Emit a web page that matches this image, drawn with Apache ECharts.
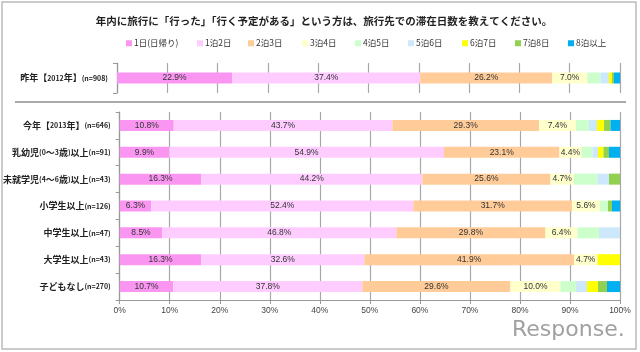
<!DOCTYPE html>
<html>
<head>
<meta charset="utf-8">
<script src="https://cdn.jsdelivr.net/npm/echarts@6/dist/echarts.min.js"></script>
<style>html,body{margin:0;padding:0;background:#fff;}#c{width:640px;height:352px;}</style>
</head>
<body>
<div id="c"></div>
<script>
const titleText = '年内に旅行に「行った」「行く予定がある」という方は、旅行先での滞在日数を教えてください。';
const topCategories = ['昨年【2012年】(n=908)'];
const categories = ['今年【2013年】(n=646)', '乳幼児(0～3歳)以上(n=91)', '未就学児(4～6歳)以上(n=43)', '小学生以上(n=126)', '中学生以上(n=47)', '大学生以上(n=43)', '子どもなし(n=270)'];
const seriesNames = ['1日(日帰り)', '1泊2日', '2泊3日', '3泊4日', '4泊5日', '5泊6日', '6泊7日', '7泊8日', '8泊以上'];
const seriesColors = ['#FA96F2', '#FFCCFF', '#FFCC99', '#FFFFCC', '#CCFFCC', '#CCE8FA', '#FFFF00', '#92D050', '#00B0F0'];
// first value = 昨年, then the 7 rows of categories
const d1 = [22.9, 10.8, 9.9, 16.3, 6.3, 8.5, 16.3, 10.7];
const d2 = [37.4, 43.7, 54.9, 44.2, 52.4, 46.8, 32.6, 37.8];
const d3 = [26.2, 29.3, 23.1, 25.6, 31.7, 29.8, 41.9, 29.6];
const d4 = [7.0, 7.4, 4.4, 4.7, 5.6, 6.4, 4.7, 10.0];
const d5 = [2.6, 2.6, 2.2, 4.7, 1.6, 4.3, 0, 3.1];
const d6 = [1.7, 1.6, 1.1, 2.3, 0, 4.3, 0, 2.2];
const d7 = [0.6, 1.4, 1.1, 0, 0, 0, 4.7, 2.2];
const d8 = [0.4, 1.3, 1.1, 2.3, 0.8, 0, 0, 1.8];
const d9 = [1.2, 1.9, 2.2, 0, 1.6, 0, 0, 2.6];
const xTicks = [0, 10, 20, 30, 40, 50, 60, 70, 80, 90, 100];

const allData = [d1, d2, d3, d4, d5, d6, d7, d8, d9];
const legendLeft = [126, 197, 248, 302, 355, 408, 462, 515, 568];
const JP = '"Noto Sans CJK JP", sans-serif';

function richLabel(s) {
  let out = '', cur = '', t0 = null;
  for (const ch of s) {
    const t = ch.charCodeAt(0) < 256 ? 's' : 'a';
    if (t !== t0 && cur) { out += '{' + t0 + '|' + cur + '}'; cur = ''; }
    t0 = t; cur += ch;
  }
  if (cur) out += '{' + t0 + '|' + cur + '}';
  return out;
}
const yLabel = {
  margin: 9,
  formatter: richLabel,
  rich: {
    a: { fontSize: 9, fontWeight: 'bold', color: '#222', fontFamily: JP },
    s: { fontSize: 7, fontWeight: 'bold', color: '#222', fontFamily: JP }
  }
};
const splitLine = { show: true, lineStyle: { color: '#A8A8A8', width: 1.2 } };

const series = [];
for (let g = 0; g < 2; g++) {
  seriesNames.forEach((name, i) => {
    const vals = g === 0 ? allData[i].slice(0, 1) : allData[i].slice(1);
    series.push({
      name: name,
      type: 'bar',
      stack: g === 0 ? 'top' : 'bottom',
      xAxisIndex: g,
      yAxisIndex: g,
      barWidth: 11,
      data: vals,
      itemStyle: { color: seriesColors[i] },
      label: {
        show: i < 4,
        position: 'inside',
        fontSize: 8.5,
        fontFamily: '"Liberation Sans", sans-serif',
        color: '#333',
        formatter: p => p.value.toFixed(1) + '%'
      }
    });
  });
}

const legends = seriesNames.map((n, i) => ({
  data: [n],
  left: legendLeft[i],
  top: 39,
  padding: 0,
  itemWidth: 6,
  itemHeight: 6,
  icon: 'rect',
  selectedMode: false,
  textStyle: { fontSize: 8.5, color: '#333', fontFamily: JP, padding: [0, 0, 0, -3] }
}));

const chart = echarts.init(document.getElementById('c'), null, { renderer: 'canvas' });
chart.setOption({
  animation: false,
  backgroundColor: '#fff',
  title: {
    text: titleText,
    left: 324,
    textAlign: 'center',
    top: 16,
    padding: 0,
    textStyle: { fontSize: 10.5, fontWeight: 'bold', color: '#222', fontFamily: JP }
  },
  legend: legends,
  grid: [
    { left: 117, right: 20, top: 63, height: 30 },
    { left: 117, right: 20, top: 112, bottom: 52 }
  ],
  xAxis: [
    { gridIndex: 0, type: 'value', min: 0, max: 100, interval: 10,
      axisLabel: { show: false }, axisLine: { show: false }, axisTick: { show: false }, splitLine: splitLine },
    { gridIndex: 1, type: 'value', min: 0, max: 100, interval: 10,
      axisLine: { show: true, lineStyle: { color: '#999', width: 1.2 } },
      axisTick: { show: true, length: 4, lineStyle: { color: '#999' } },
      axisLabel: { fontSize: 8.5, color: '#444', margin: 6, fontFamily: '"Liberation Sans", sans-serif',
        formatter: v => xTicks.indexOf(v) >= 0 ? v + '%' : '' },
      splitLine: splitLine }
  ],
  yAxis: [
    { gridIndex: 0, type: 'category', data: topCategories, inverse: true,
      axisLine: { show: true, lineStyle: { color: '#999', width: 1.2 } },
      axisTick: { show: true, length: 4, lineStyle: { color: '#999' } },
      axisLabel: yLabel },
    { gridIndex: 1, type: 'category', data: categories, inverse: true,
      axisLine: { show: true, lineStyle: { color: '#999', width: 1.2 } },
      axisTick: { show: true, length: 4, lineStyle: { color: '#999' } },
      axisLabel: yLabel }
  ],
  graphic: [
    { type: 'rect', shape: { x: 2, y: 2, width: 634, height: 347 }, style: { fill: 'none', stroke: '#BBBBBB', lineWidth: 1.5 }, silent: true },
    { type: 'line', shape: { x1: 15, y1: 102, x2: 626, y2: 102 }, style: { stroke: '#AAAAAA', lineWidth: 2 }, silent: true },
    { type: 'text', left: 512, top: 319, style: { text: 'Response.', fontSize: 22, fontFamily: '"DejaVu Sans", sans-serif', fill: '#A0A0A0' }, silent: true }
  ],
  series: series
});
</script>
</body>
</html>
